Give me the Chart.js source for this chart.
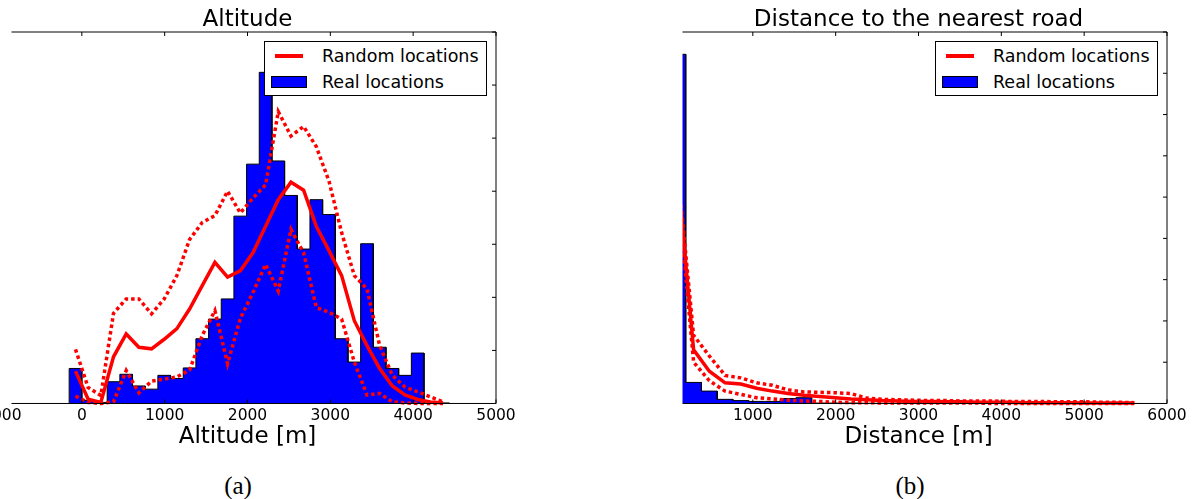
<!DOCTYPE html>
<html>
<head>
<meta charset="utf-8">
<script src="https://cdn.jsdelivr.net/npm/chart.js@4.4.0/dist/chart.umd.min.js"></script>
<style>
  html, body { margin: 0; padding: 0; background: #fff; width: 1197px; height: 499px; overflow: hidden; }
  body { position: relative; font-family: 'DejaVu Sans'; }
  canvas { position: absolute; top: 0; }
  .legend { position: absolute; top: 41px; width: 221px; height: 53px; border: 1px solid #000; background: #fff; }
  .legend .line { position: absolute; left: 10px; top: 12px; width: 28px; height: 3.5px; background: #f00; }
  .legend .box { position: absolute; left: 6px; top: 34px; width: 34px; height: 10px; background: #00f; border: 1px solid #000; }
  .legend .txt { position: absolute; left: 57px; font-size: 17.5px; line-height: 20px; white-space: nowrap; color: #000; }
  .caption { position: absolute; top: 473px; width: 100px; text-align: center; font-family: 'Liberation Serif'; font-size: 25px; line-height: 25px; color: #000; }
</style>
</head>
<body>
<canvas id="chartAlt" width="577" height="446" style="left:-41px"></canvas>
<canvas id="chartDist" width="557" height="446" style="left:640px"></canvas>

<div class="legend" id="legendAlt" style="left:264px"></div>
<div class="legend" id="legendDist" style="left:935px"></div>

<div class="caption" style="left:188px">(a)</div>
<div class="caption" style="left:860px">(b)</div>

<script>
// ข้อมูล (a) ความสูง
var altEdges = [-153, 0, 153, 306, 459, 612, 765, 918, 1071, 1224, 1377, 1530, 1683, 1836, 1989,
    2142, 2295, 2448, 2601, 2754, 2907, 3060, 3213, 3366, 3519, 3672, 3825, 3978, 4131, 4284, 4437];
var altReal = [0.66, 0.06, 0.02, 0.41, 0.55, 0.33, 0.27, 0.53, 0.47, 0.67, 1.22, 1.59, 1.97, 3.53, 4.51,
    6.24, 4.57, 3.92, 2.91, 3.84, 3.56, 1.22, 0.78, 3.01, 1.06, 0.66, 0.53, 0.95, 0.01, 0.01];
var altRandom = [0.61, 0.08, 0.02, 0.88, 1.31, 1.06, 1.03, 1.21, 1.41, 1.78, 2.22, 2.66, 2.38, 2.50, 2.84,
    3.34, 3.84, 4.17, 4.02, 3.34, 2.88, 2.41, 1.56, 1.09, 0.66, 0.33, 0.16, 0.075, 0.03, 0.01];
var altRandomHigh = [1.02, 0.30, 0.15, 1.70, 1.97, 1.97, 1.69, 1.97, 2.41, 3.09, 3.41, 3.54, 4.00, 3.59, 3.87,
    4.12, 5.50, 5.04, 5.22, 4.84, 4.19, 3.22, 2.41, 2.16, 1.09, 0.53, 0.31, 0.22, 0.125, 0.03];
var altRandomLow = [0.14, 0.02, 0.0, 0.03, 0.62, 0.20, 0.42, 0.46, 0.50, 0.63, 1.28, 1.75, 0.75, 1.60, 2.09,
    2.62, 2.12, 3.28, 2.84, 1.81, 1.72, 1.59, 0.78, 0.16, 0.19, 0.03, 0.01, 0.0, 0.0, 0.0];
var altTicks = [-1000, 0, 1000, 2000, 3000, 4000, 5000];

// ข้อมูล (b) ระยะห่างจากถนน
var distEdges = [0, 190, 380, 570, 760, 950, 1140, 1330, 1520, 1710, 1900, 2090, 2280, 2470, 2660,
    2850, 3040, 3230, 3420, 3610, 3800, 3990, 4180, 4370, 4560, 4750, 4940, 5130, 5320, 5510, 5700];
var distReal = [8.46, 0.51, 0.30, 0.10, 0.07, 0.05, 0.05, 0.12, 0.14, 0.01, 0.01, 0.01, 0.005, 0.005, 0,
    0, 0, 0, 0, 0, 0, 0, 0, 0, 0, 0, 0, 0, 0, 0];
var distRandom = [5.50, 1.30, 0.78, 0.50, 0.47, 0.37, 0.30, 0.24, 0.20, 0.17, 0.14, 0.11, 0.09, 0.07, 0.06,
    0.05, 0.05, 0.04, 0.04, 0.03, 0.03, 0.03, 0.02, 0.02, 0.02, 0.02, 0.01, 0.01, 0.01, 0.01];
var distRandomHigh = [5.60, 1.65, 1.15, 0.68, 0.62, 0.50, 0.44, 0.33, 0.28, 0.27, 0.26, 0.24, 0.13, 0.10, 0.09,
    0.08, 0.07, 0.07, 0.06, 0.06, 0.06, 0.05, 0.05, 0.05, 0.04, 0.04, 0.04, 0.03, 0.03, 0.02];
var distRandomLow = [5.20, 1.00, 0.55, 0.30, 0.22, 0.14, 0.11, 0.08, 0.06, 0.05, 0.03, 0.02, 0.02, 0.01, 0.01,
    0.01, 0.01, 0.01, 0.01, 0.01, 0, 0, 0, 0, 0, 0, 0, 0, 0, 0];
var distTicks = [1000, 2000, 3000, 4000, 5000, 6000];

var seriesLabels = ['Random locations', 'Real locations'];

var font = 'DejaVu Sans';

// histogram แบบ step: จุดมุมของแต่ละ bin
function histPoints(edges, counts) {
    var pts = [{ x: edges[0], y: 0 }];
    for (var i = 0; i < counts.length; i++) {
        pts.push({ x: edges[i], y: counts[i] });
        pts.push({ x: edges[i + 1], y: counts[i] });
    }
    pts.push({ x: edges[edges.length - 1], y: 0 });
    return pts;
}

// เส้นอยู่ที่กึ่งกลาง bin
function centerPoints(edges, values) {
    return values.map(function (v, i) {
        return { x: (edges[i] + edges[i + 1]) / 2, y: v };
    });
}

// กรอบแบบ matplotlib: ขอบบน/ขวา/ล่าง และ tick ชี้เข้าด้านใน
var framePlugin = {
    id: 'frame',
    afterDatasetsDraw: function (chart, args, opts) {
        var a = chart.chartArea;
        var ctx = chart.ctx;
        var x0 = a.left + opts.hidden;
        ctx.save();
        // แถบซ้ายที่ถูกตัดออกในรูปต้นฉบับ
        ctx.fillStyle = '#fff';
        ctx.fillRect(a.left - 3, a.top - 3, opts.hidden + 3, a.bottom - a.top + 6);
        ctx.strokeStyle = '#000';
        ctx.lineWidth = 1;
        ctx.beginPath();
        ctx.moveTo(x0, a.top);
        ctx.lineTo(a.right, a.top);
        ctx.lineTo(a.right, a.bottom);
        ctx.lineTo(x0, a.bottom);
        var xs = chart.scales.x;
        xs.ticks.forEach(function (t) {
            var px = xs.getPixelForValue(t.value);
            if (px < x0 || px > a.right) return;
            ctx.moveTo(px, a.top);
            ctx.lineTo(px, a.top + 4);
            ctx.moveTo(px, a.bottom);
            ctx.lineTo(px, a.bottom - 4);
        });
        var ys = chart.scales.y;
        ys.ticks.forEach(function (t) {
            if (t.value === 0) return;
            var py = ys.getPixelForValue(t.value);
            ctx.moveTo(a.right, py);
            ctx.lineTo(a.right - 4, py);
        });
        ctx.stroke();
        ctx.restore();
    }
};

function makeChart(id, cfg) {
    var ctx = document.getElementById(id).getContext('2d');
    var lineBase = { borderColor: '#ff0000', pointRadius: 0, fill: false, tension: 0, order: 0,
        borderCapStyle: 'butt', clip: 5 };
    return new Chart(ctx, {
        type: 'line',
        data: {
            datasets: [
                Object.assign({}, lineBase, { label: seriesLabels[0], data: centerPoints(cfg.edges, cfg.mid), borderWidth: 3.5 }),
                Object.assign({}, lineBase, { label: 'high', data: centerPoints(cfg.edges, cfg.high), borderWidth: 3.5, borderDash: [3.5, 3] }),
                Object.assign({}, lineBase, { label: 'low', data: centerPoints(cfg.edges, cfg.low), borderWidth: 3.5, borderDash: [3.5, 3] }),
                {
                    label: seriesLabels[1],
                    data: histPoints(cfg.edges, cfg.real),
                    backgroundColor: '#0000ff',
                    borderColor: '#000000',
                    borderWidth: 1,
                    pointRadius: 0,
                    fill: 'origin',
                    tension: 0,
                    order: 1,
                    clip: 0
                }
            ]
        },
        options: {
            responsive: false,
            animation: false,
            events: [],
            layout: { padding: { left: cfg.padLeft, right: cfg.padRight, top: 0, bottom: 0 } },
            plugins: {
                legend: { display: false },
                tooltip: { enabled: false },
                title: {
                    display: true,
                    text: cfg.title,
                    color: '#000',
                    font: { family: font, size: 23, weight: 'normal', lineHeight: 1 },
                    padding: { top: 8.5, bottom: 0.5 }
                },
                frame: { hidden: 12.5 }
            },
            scales: {
                x: {
                    type: 'linear',
                    min: cfg.xMin,
                    max: cfg.xMax,
                    grid: { display: false, drawTicks: false },
                    border: { display: false },
                    afterBuildTicks: function (scale) {
                        scale.ticks = cfg.ticks.map(function (v) { return { value: v }; });
                    },
                    ticks: {
                        color: '#000',
                        font: { family: font, size: 15.5, lineHeight: 1 },
                        padding: 5,
                        maxRotation: 0,
                        autoSkip: false,
                        callback: function (v) { return String(v); }
                    },
                    title: {
                        display: true,
                        text: cfg.xTitle,
                        color: '#000',
                        font: { family: font, size: 23, lineHeight: 0.74 },
                        padding: 0
                    }
                },
                y: {
                    min: 0,
                    max: cfg.yMax,
                    grid: { display: false, drawTicks: false },
                    border: { display: false },
                    ticks: { display: false, stepSize: 1 }
                }
            }
        },
        plugins: [framePlugin]
    });
}

var chartAlt = makeChart('chartAlt', {
    edges: altEdges, real: altReal, mid: altRandom, high: altRandomHigh, low: altRandomLow,
    ticks: altTicks, xMin: -1000, xMax: 5000, yMax: 7,
    title: 'Altitude', xTitle: 'Altitude [m]', padLeft: 40, padRight: 40
});

var chartDist = makeChart('chartDist', {
    edges: distEdges, real: distReal, mid: distRandom, high: distRandomHigh, low: distRandomLow,
    ticks: distTicks, xMin: 0, xMax: 6000, yMax: 9,
    title: 'Distance to the nearest road', xTitle: 'Distance [m]', padLeft: 30, padRight: 30
});

// legend แบบ HTML วางทับมุมขวาบน
['legendAlt', 'legendDist'].forEach(function (id) {
    var el = document.getElementById(id);
    el.innerHTML =
        '<div class="line"></div>' +
        '<div class="txt" style="top:4px">' + seriesLabels[0] + '</div>' +
        '<div class="box"></div>' +
        '<div class="txt" style="top:30px">' + seriesLabels[1] + '</div>';
});
</script>
</body>
</html>
